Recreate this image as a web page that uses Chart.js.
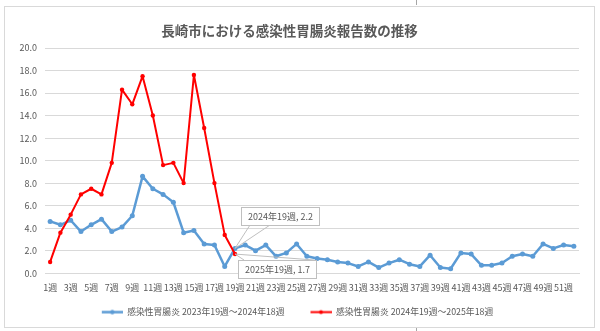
<!DOCTYPE html>
<html>
<head>
<meta charset="utf-8">
<script src="https://cdn.jsdelivr.net/npm/chart.js@4"></script>
<style>
html,body{margin:0;padding:0;background:#fff;}
#wrap{position:relative;width:600px;height:331px;overflow:hidden;background:#fff;}
#frame{position:absolute;left:4px;top:6px;width:591px;height:322px;border:1px solid #d9d9d9;box-sizing:border-box;}
.tick{position:absolute;left:416px;width:1px;background:#a6a6a6;}
canvas{position:absolute;left:0;top:0;}
</style>
</head>
<body>
<div id="wrap">
  <div id="frame"></div>
  <div class="tick" style="top:0;height:5px;"></div>
  <div class="tick" style="top:328px;height:3px;"></div>
  <canvas id="c" width="600" height="331"></canvas>
</div>
<script>
const TITLE = '長崎市における感染性胃腸炎報告数の推移';
const categories = ['1週','2週','3週','4週','5週','6週','7週','8週','9週','10週',
  '11週','12週','13週','14週','15週','16週','17週','18週','19週','20週',
  '21週','22週','23週','24週','25週','26週','27週','28週','29週','30週',
  '31週','32週','33週','34週','35週','36週','37週','38週','39週','40週',
  '41週','42週','43週','44週','45週','46週','47週','48週','49週','50週',
  '51週','52週'];
const seriesNames = ['感染性胃腸炎 2023年19週〜2024年18週', '感染性胃腸炎 2024年19週〜2025年18週'];
const series2023 = [4.6,4.3,4.7,3.7,4.3,4.8,3.7,4.1,5.1,8.6,
  7.5,7.0,6.3,3.6,3.8,2.6,2.5,0.6,2.2,2.5,
  2.0,2.5,1.5,1.8,2.6,1.5,1.3,1.2,1.0,0.9,
  0.6,1.0,0.5,0.9,1.2,0.8,0.6,1.6,0.5,0.4,
  1.8,1.7,0.7,0.7,0.9,1.5,1.7,1.5,2.6,2.2,
  2.5,2.4];
const series2024 = [1.0,3.6,5.2,7.0,7.5,7.0,9.8,16.3,15.0,17.5,
  14.0,9.6,9.8,8.0,17.6,12.9,8.0,3.4,1.7];
const yTicks = [0,2,4,6,8,10,12,14,16,18,20];
const calloutYears = ['2024', '2025'];
const calloutIndex = 18;

const FONT = '"Noto Sans CJK JP", "Noto Sans", sans-serif';
const TEXT = '#595959';
const BLUE = '#5B9BD5';
const RED = '#FF0000';

function makeIcon(color, lw, r) {
  const cv = document.createElement('canvas');
  cv.width = 37; cv.height = 9;
  const g = cv.getContext('2d');
  g.strokeStyle = color; g.lineWidth = lw;
  g.beginPath(); g.moveTo(16, 4.5); g.lineTo(37, 4.5); g.stroke();
  g.fillStyle = color;
  g.beginPath(); g.arc(26.5, 4.5, r, 0, Math.PI * 2); g.fill();
  return cv;
}
const icons = [makeIcon(BLUE, 2.5, 2.2), makeIcon(RED, 2, 2)];

const callouts = [
  {dataset: 0, dx: 6, dy: -41, h: 18, edge: 'bottom', l1: 9, l2: 29},
  {dataset: 1, dx: 3, dy: 6, h: 18, edge: 'top', l1: 6, l2: -2}
];

const calloutPlugin = {
  id: 'callouts',
  afterDatasetsDraw(chart) {
    const c = chart.ctx;
    const sets = [series2023, series2024];
    callouts.forEach(co => {
      const meta = chart.getDatasetMeta(co.dataset);
      const pt = meta.data[calloutIndex];
      const val = sets[co.dataset][calloutIndex];
      const text = calloutYears[co.dataset] + '年' + categories[calloutIndex] + ', ' + val.toFixed(1);
      c.save();
      c.font = '9px ' + FONT;
      const w = Math.round(c.measureText(text).width + 13);
      const h = co.h;
      const bx = Math.round(pt.x + co.dx), by = Math.round(pt.y + co.dy);
      const ey = co.edge === 'bottom' ? by + h : by;
      const x2 = co.l2 < 0 ? bx + w + co.l2 : bx + co.l2;
      c.strokeStyle = '#bfbfbf'; c.lineWidth = 1;
      c.beginPath();
      c.moveTo(bx + co.l1, ey); c.lineTo(pt.x, pt.y); c.lineTo(x2, ey);
      c.stroke();
      c.fillStyle = '#fff';
      c.fillRect(bx, by, w, h);
      c.strokeRect(bx + 0.5, by + 0.5, w, h);
      c.fillStyle = TEXT; c.textAlign = 'center'; c.textBaseline = 'middle';
      c.fillText(text, bx + w / 2 + 0.5, by + h / 2 + 1);
      c.restore();
    });
  }
};

new Chart(document.getElementById('c').getContext('2d'), {
  type: 'line',
  data: {
    labels: categories,
    datasets: [
      {label: seriesNames[0], data: series2023, borderColor: BLUE, backgroundColor: BLUE,
       borderWidth: 2.5, pointRadius: 2.5, pointBorderWidth: 0, pointBackgroundColor: BLUE,
       borderJoinStyle: 'round', borderCapStyle: 'round', tension: 0, order: 2},
      {label: seriesNames[1], data: series2024, borderColor: RED, backgroundColor: RED,
       borderWidth: 2, pointRadius: 2.2, pointBorderWidth: 0, pointBackgroundColor: RED,
       borderJoinStyle: 'round', borderCapStyle: 'round', tension: 0, order: 1}
    ]
  },
  options: {
    responsive: false,
    animation: false,
    devicePixelRatio: 1,
    layout: {padding: {left: 0, right: 21, top: 0, bottom: 4.5}},
    plugins: {
      title: {display: true, text: TITLE, color: TEXT,
        font: {family: FONT, size: 13.5, weight: 'bold'},
        padding: {top: 22.4, bottom: 9.4}},
      legend: {position: 'bottom',
        labels: {color: TEXT, font: {family: FONT, size: 8.8}, usePointStyle: true,
          pointStyleWidth: 37, padding: 10,
          generateLabels: chart => chart.data.datasets.map((ds, i) => ({
            text: ds.label, pointStyle: icons[i], datasetIndex: i, hidden: false,
            fillStyle: ds.borderColor, strokeStyle: ds.borderColor, lineWidth: 0, fontColor: TEXT
          }))
        }},
      tooltip: {enabled: false}
    },
    scales: {
      x: {
        offset: true,
        grid: {display: false, drawTicks: false, offset: true},
        border: {display: true, color: '#d9d9d9'},
        ticks: {autoSkip: false, maxRotation: 0, minRotation: 0, padding: 9, color: TEXT,
          font: {family: FONT, size: 9},
          callback: (v, i) => i % 2 === 0 ? categories[i] : ''},
        afterFit: s => { s.height = 24.5; }
      },
      y: {
        min: 0, max: 20,
        afterBuildTicks: s => { s.ticks = yTicks.map(v => ({value: v})); },
        ticks: {padding: 8, color: TEXT, font: {family: FONT, size: 9},
          callback: v => Number(v).toFixed(1)},
        grid: {color: '#d9d9d9', drawTicks: false},
        border: {display: false},
        afterFit: s => { s.width = 45; }
      }
    }
  },
  plugins: [calloutPlugin]
});
</script>
</body>
</html>
